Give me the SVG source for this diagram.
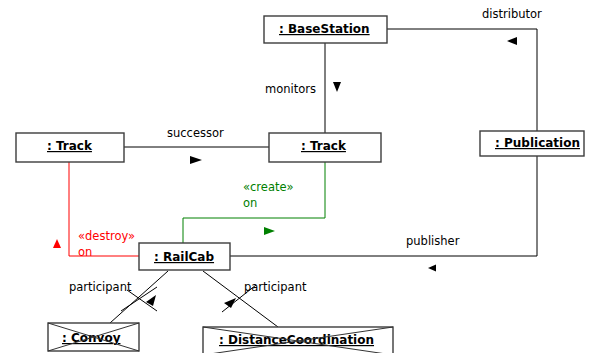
<svg xmlns="http://www.w3.org/2000/svg" width="596" height="353" viewBox="0 0 596 353">
<style>
.box{fill:#fff;stroke:#3c3c3c;stroke-width:1.4}
.nt{font-family:"DejaVu Sans","Verdana",sans-serif;font-size:12px;font-weight:bold;fill:#000;text-decoration:underline}
.lb{font-family:"DejaVu Sans","Verdana",sans-serif;font-size:11.5px;fill:#000}
.ln{fill:none;stroke:#000;stroke-width:1}
.x{stroke:#333;stroke-width:1}
</style>
<rect width="596" height="353" fill="#fff"/>
<g id="connectors">
  <path class="ln" d="M325,43 V133"/>
  <path class="ln" d="M124,147 H269"/>
  <path class="ln" d="M387,29 H537 V131"/>
  <path class="ln" d="M537,156 V256 H230"/>
  <path fill="none" stroke="#ff0000" stroke-width="1" d="M69,162 V256 H139"/>
  <path fill="none" stroke="#008000" stroke-width="1" d="M325,162 V218 H183 V243"/>
  <path class="ln" d="M168,271 L110,323"/>
  <path class="ln" d="M121,311 L157,287"/>
  <path class="ln" d="M127,290 L157,311"/>
  <polygon points="146,302 156,295 153,306" fill="#000"/>
  <path class="ln" d="M203,271 L278,327"/>
  <path class="ln" d="M222,312 L256,285"/>
  <polygon points="224,303 236,298 231,308" fill="#000"/>
  <text class="lb" x="482" y="18">distributor</text>
  <polygon points="507,41 517,37 517,45" fill="#000"/>
  <text class="lb" x="265" y="93">monitors</text>
  <polygon points="333,82 341,82 337,92" fill="#000"/>
  <text class="lb" x="167" y="137">successor</text>
  <polygon points="190,156 190,164 202,160" fill="#000"/>
  <text class="lb" x="243" y="191" fill="#008000" style="fill:#008000">«create»</text>
  <text class="lb" x="243" y="207" style="fill:#008000">on</text>
  <polygon points="264,227 264,235 275,231" fill="#008000"/>
  <text class="lb" x="78" y="240" style="fill:#ff0000">«destroy»</text>
  <text class="lb" x="78" y="256" style="fill:#ff0000">on</text>
  <polygon points="53,248 61,248 57,239" fill="#ff0000"/>
  <text class="lb" x="406" y="245">publisher</text>
  <polygon points="428,268 436,264.5 436,271.5" fill="#000"/>
  <text class="lb" x="69" y="291">participant</text>
  <text class="lb" x="244" y="291">participant</text>
</g>
<g id="baseStation">
  <rect class="box" x="264" y="16" width="123" height="27"/>
  <text class="nt" x="279" y="33">: BaseStation</text>
</g>
<g id="trackLeft">
  <rect class="box" x="16" y="133" width="108" height="29"/>
  <text class="nt" x="47" y="150">: Track</text>
</g>
<g id="trackRight">
  <rect class="box" x="269" y="133" width="112" height="29"/>
  <text class="nt" x="301" y="150">: Track</text>
</g>
<g id="publication">
  <rect class="box" x="480" y="131" width="104" height="25"/>
  <text class="nt" x="495" y="147">: Publication</text>
</g>
<g id="railCab">
  <rect class="box" x="139" y="243" width="91" height="27"/>
  <text class="nt" x="154" y="261">: RailCab</text>
</g>
<g id="convoy">
  <rect class="box" x="48" y="323" width="91" height="28"/>
  <text class="nt" x="62" y="342">: Convoy</text>
  <line class="x" x1="48" y1="323" x2="139" y2="351"/>
  <line class="x" x1="139" y1="323" x2="48" y2="351"/>
</g>
<g id="distanceCoordination">
  <rect class="box" x="203" y="327" width="190" height="28"/>
  <text class="nt" x="219" y="344">: DistanceCoordination</text>
  <line class="x" x1="203" y1="327" x2="393" y2="355"/>
  <line class="x" x1="393" y1="327" x2="203" y2="355"/>
</g>
</svg>
